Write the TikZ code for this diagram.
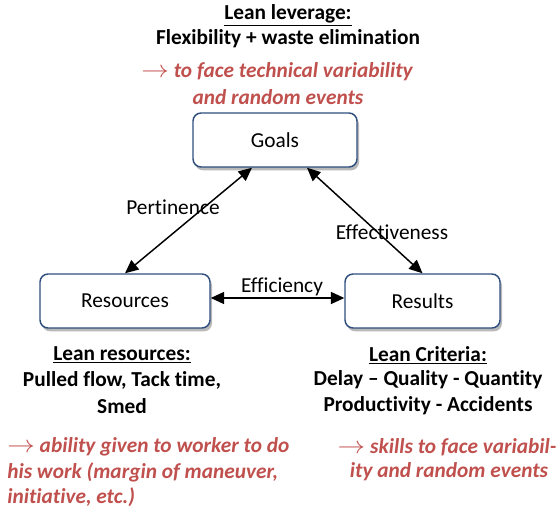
\documentclass[tikz,border=0pt]{standalone}
\usepackage{fontspec}
\usepackage{graphicx}
\setmainfont{Carlito}[Ligatures=NoCommon]
\usetikzlibrary{arrows.meta,shadows,calc}
\definecolor{leanred}{HTML}{C0504D}
\definecolor{boxblue}{HTML}{2F4F7F}
\newcommand{\leanarrow}{\scalebox{1.2}[1.05]{$\rightarrow$}}
\begin{document}
\begin{tikzpicture}[x=0.75pt,y=-0.75pt,
  box/.style={draw=boxblue,line width=1.1pt,rounded corners=6pt,fill=white,
    minimum height=40.5pt,inner sep=0pt,font=\fontsize{16}{18}\selectfont,
    drop shadow={shadow xshift=1.5pt,shadow yshift=-2.5pt,fill=gray!55,opacity=1}},
  link/.style={line width=1.1pt,{Triangle[length=10pt,width=9pt]}-{Triangle[length=10pt,width=9pt]}},
  lbl/.style={font=\fontsize{16}{18}\selectfont,inner sep=1pt},
  head/.style={font=\bfseries\fontsize{16}{18}\selectfont,inner sep=0pt},
  note/.style={font=\bfseries\itshape\fontsize{16}{18}\selectfont,text=leanred,inner sep=0pt}]
\useasboundingbox (0,0) rectangle (557,513);
% boxes
\node[box,minimum width=123pt] (goals) at (275,140) {Goals};
\node[box,minimum width=127.5pt] (res) at (125,301) {Resources};
\node[box,minimum width=116.25pt] (rslt) at (422.5,301) {Results};
% connectors
\draw[link] (res.north) -- ($(goals.south)+(-23,0)$);
\draw[link] ($(goals.south)+(32,0)$) -- (rslt.north);
\draw[link] ($(res.east)+(0,-3)$) -- ($(rslt.west)+(0,-3)$);
% connector labels
\node[lbl] (lp) at (173,207) {Pertinence};
\node[lbl] (le) at (392,232) {Effectiveness};
\node[lbl] (lf) at (282,287) {Efficiency};
% top text
\node[head] (t1) at (288,15) {\underline{Lean leverage:}};
\node[head] (t2) at (288,39) {Flexibility + waste elimination};
\node[note] (t3) at (277,72) {\leanarrow{} to face technical variability};
\node[note] (t4) at (278,97) {and random events};
% bottom left
\node[head] (l1) at (122,355) {\underline{Lean resources:}};
\node[head] (l2) at (122,380) {Pulled flow, Tack time,};
\node[head] (l3) at (122,406) {Smed};
\node[note,anchor=west] (l4) at (7,447) {\leanarrow{} ability given to worker to do};
\node[note,anchor=west] (l5) at (7,472) {his work (margin of maneuver,};
\node[note,anchor=west] (l6) at (7,497) {initiative, etc.)};
% bottom right
\node[head] (r1) at (428,355) {\underline{Lean Criteria:}};
\node[head] (r2) at (428,380) {Delay -- Quality - Quantity};
\node[head] (r3) at (428,406) {Productivity - Accidents};
\node[note] (r4) at (447,447) {\leanarrow{} skills to face variabil-};
\node[note] (r5) at (449,472) {ity and random events};
\end{tikzpicture}
\end{document}
